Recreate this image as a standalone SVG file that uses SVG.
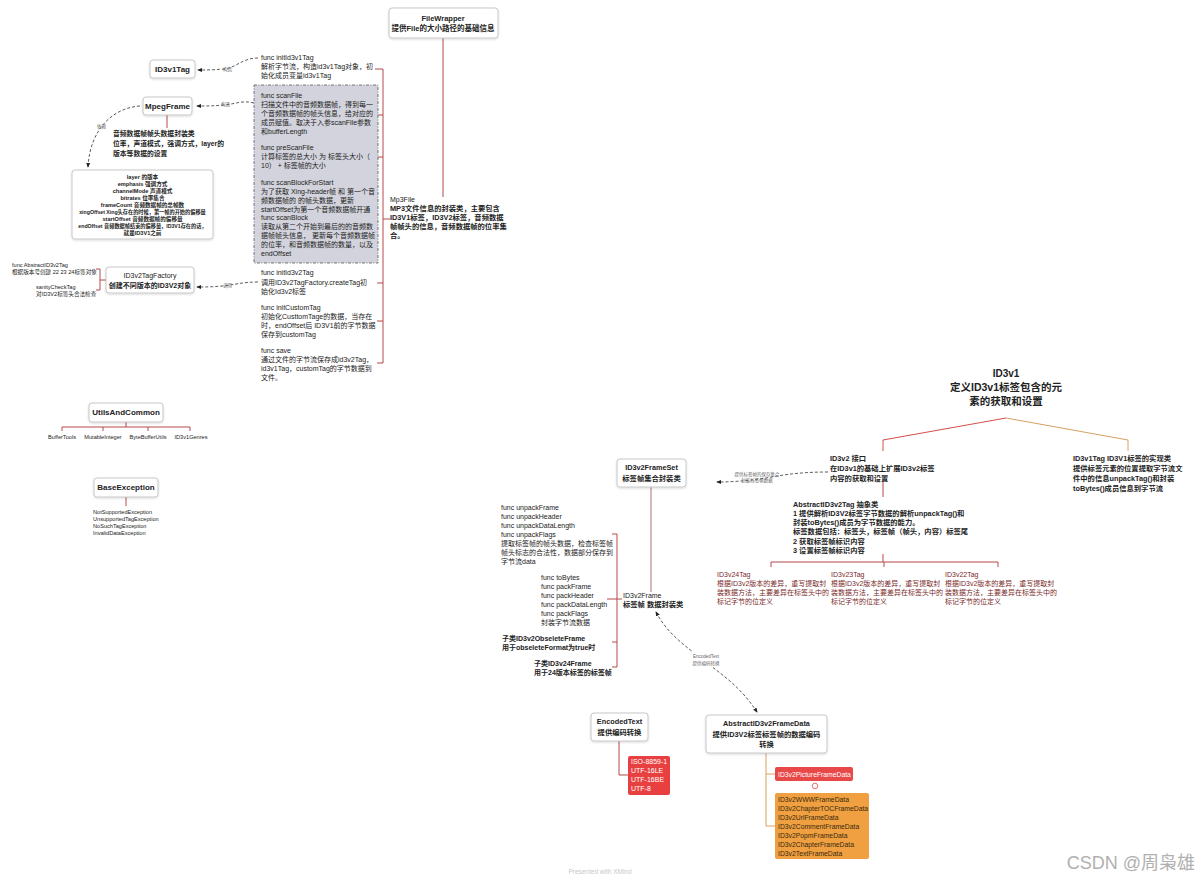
<svg xmlns="http://www.w3.org/2000/svg" width="1200" height="882" viewBox="0 0 1200 882">
<defs>
<style>
text{font-family:"Liberation Sans","Noto Sans CJK SC",sans-serif;fill:#222}
.n{fill:#fff;stroke:#c8c8c8;stroke-width:1}
.t{font-size:7px}
.tb{font-size:7.3px;font-weight:bold}
.s{font-size:5.6px}
.sb{font-size:5.6px;font-weight:bold}
.lbl{font-size:4.5px;fill:#666}
.h{font-size:8px;font-weight:bold;text-anchor:middle}
.c{text-anchor:middle}
.br{fill:none;stroke:#b5484a;stroke-width:1}
.dash{fill:none;stroke:#333;stroke-width:0.8;stroke-dasharray:3 2}
.dr{fill:#7a2a2a;font-size:7px}
.w{fill:#fff;font-size:7px}
.o{font-size:6.8px;fill:#3a2a10}
</style>
<marker id="ar" viewBox="0 0 6 6" refX="5" refY="3" markerWidth="6" markerHeight="6" orient="auto-start-reverse"><path d="M0,0.5 L6,3 L0,5.5 z" fill="#222"/></marker>
<filter id="sh" x="-10%" y="-20%" width="120%" height="150%"><feDropShadow dx="0" dy="1" stdDeviation="0.8" flood-color="#000" flood-opacity="0.15"/></filter>
</defs>
<rect width="1200" height="882" fill="#fff"/>

<g id="connectors">
<path class="br" d="M443,38 V197"/>
<path class="br" d="M383,69 V363 M375,69 H383 M377,115 H383 M377,157 H383 M383,219 H390 M377,283 H383 M377,321 H383 M377,363 H383"/>
<path class="dash" d="M258,58 C242,58 236,68 224,69 C212,70 206,70 198,70" marker-end="url(#ar)"/>
<path class="dash" d="M254,103 C242,100 236,104 224,105 C214,106 206,106 197,106" marker-end="url(#ar)"/>
<path class="dash" d="M140,106 C112,108 90,130 88,167" marker-end="url(#ar)"/>
<path class="dash" d="M258,282 C242,282 234,285 222,286 C212,287 205,287 197,287" marker-end="url(#ar)"/>
<path class="br" d="M167,115 V128"/>
<path class="br" d="M96,269 H100 V290 H96 M100,280 H106"/>
<path class="br" d="M126,422 V427 M62,431 V427 H190 V431 M103,427 V431 M148,427 V431"/>
<path class="br" d="M126,497 V506"/>
<path fill="none" stroke="#d0504a" stroke-width="1" d="M1006,418 L883,440 V451"/>
<path fill="none" stroke="#d8a060" stroke-width="1" d="M1006,418 L1128,440 V451"/>
<path class="br" d="M883,481 V497"/>
<path class="br" d="M883,554 V562 M771,567 V562 H998 V567 M884,562 V567"/>
<path class="dash" d="M828,472 C795,472 778,476 766,478 C745,481 732,482 717,482" marker-end="url(#ar)"/>
<path fill="none" stroke="#b07070" stroke-width="1" d="M651,487 V592"/>
<path class="br" d="M612,534 H617 V667 H612 M607,599 H622 M612,642 H617"/>
<path class="dash" d="M757,712 C740,686 722,675 706,662 C688,648 668,635 656,612" marker-start="url(#ar)" marker-end="url(#ar)"/>
<path class="br" d="M619,741 V775 H629"/>
<path fill="none" stroke="#d8a060" stroke-width="1" d="M766,753 V826 H775 M766,774 H775"/>
</g>

<g id="FileWrapper">
<rect class="n" x="389" y="8" width="109" height="30" rx="3" filter="url(#sh)"/>
<text class="h" x="443" y="21" style="font-size:7.5px">FileWrapper</text>
<text class="h" x="443" y="31" style="font-size:7.5px">提供File的大小路径的基础信息</text>
</g>

<g id="Mp3File">
<text class="t" x="390" y="202">Mp3File</text>
<text class="tb" x="390" y="211">MP3文件信息的封装类，主要包含</text>
<text class="tb" x="390" y="220">ID3V1标签，ID3V2标签，音频数据</text>
<text class="tb" x="390" y="229">帧帧头的信息，音频数据帧的位率集</text>
<text class="tb" x="390" y="238">合。</text>
</g>

<g id="initId3v1Tag">
<text class="t" x="261" y="60">func initId3v1Tag</text>
<text class="t" x="261" y="69">解析字节流，构造id3v1Tag对象，初</text>
<text class="t" x="261" y="78">始化成员变量id3v1Tag</text>
</g>

<g id="scanGroup">
<rect x="254" y="85" width="124" height="178" fill="#d2d3dc" stroke="#555" stroke-width="0.8" stroke-dasharray="3 1.5 1 1.5"/>
<text class="t" x="261" y="98">func scanFile</text>
<text class="t" x="261" y="107">扫描文件中的音频数据帧，得到每一</text>
<text class="t" x="261" y="116">个音频数据帧的帧头信息，给对应的</text>
<text class="t" x="261" y="125">成员赋值。取决于入参scanFile参数</text>
<text class="t" x="261" y="134">和bufferLength</text>
<text class="t" x="261" y="150">func preScanFile</text>
<text class="t" x="261" y="159">计算标签的总大小 为 标签头大小（</text>
<text class="t" x="261" y="168">10）  +  标签帧的大小</text>
<text class="t" x="261" y="185">func scanBlockForStart</text>
<text class="t" x="261" y="194">为了获取 Xing-header帧 和 第一个音</text>
<text class="t" x="261" y="203">频数据帧的 的帧头数据，更新</text>
<text class="t" x="261" y="212">startOffset为第一个音频数据帧开通</text>
<text class="t" x="261" y="220">func scanBlock</text>
<text class="t" x="261" y="229">读取从第二个开始到最后的的音频数</text>
<text class="t" x="261" y="238">据帧帧头信息， 更新每个音频数据帧</text>
<text class="t" x="261" y="247">的位率，和音频数据帧的数量，以及</text>
<text class="t" x="261" y="256">endOffset</text>
</g>

<g id="initId3v2Tag">
<text class="t" x="261" y="275">func initId3v2Tag</text>
<text class="t" x="261" y="285">调用ID3v2TagFactory.createTag初</text>
<text class="t" x="261" y="294">始化Id3v2标签</text>
</g>
<g id="initCustomTag">
<text class="t" x="261" y="310">func initCustomTag</text>
<text class="t" x="261" y="319">初始化CusttomTage的数据，当存在</text>
<text class="t" x="261" y="328">时，endOffset后 ID3V1前的字节数据</text>
<text class="t" x="261" y="337">保存到customTag</text>
</g>
<g id="save">
<text class="t" x="261" y="353">func save</text>
<text class="t" x="261" y="362">通过文件的字节流保存成id3v2Tag，</text>
<text class="t" x="261" y="371">id3v1Tag，customTag的字节数据到</text>
<text class="t" x="261" y="380">文件。</text>
</g>

<g id="labels">
<text class="lbl" x="223" y="71">构造</text>
<text class="lbl" x="221" y="106">构造</text>
<text class="lbl" x="97" y="128">依赖</text>
<text class="lbl" x="223" y="287">调用</text>
<text class="lbl c" x="757" y="476">提供标签帧的保存集合</text>
<text class="lbl c" x="757" y="482">封装标签帧数据</text>
<rect x="688" y="652" width="36" height="15" fill="#fff"/>
<text class="lbl c" x="706" y="658">EncodedText</text>
<text class="lbl c" x="706" y="665">提供编码转换</text>
</g>

<g id="ID3v1Tag">
<rect class="n" x="150" y="60" width="45" height="18" rx="3" filter="url(#sh)"/>
<text class="h" x="172.5" y="72">ID3v1Tag</text>
</g>

<g id="MpegFrame">
<rect class="n" x="143" y="97" width="49" height="18" rx="3" filter="url(#sh)"/>
<text class="h" x="167.5" y="109">MpegFrame</text>
</g>
<g id="MpegFrameDesc">
<text class="tb" x="113" y="136" style="font-size:6.8px">音频数据帧帧头数据封装类</text>
<text class="tb" x="113" y="146" style="font-size:6.8px">位率，声道模式，强调方式，layer的</text>
<text class="tb" x="113" y="156" style="font-size:6.8px">版本等数据的设置</text>
</g>

<g id="MpegFields">
<rect class="n" x="72" y="170" width="141" height="69" rx="3" filter="url(#sh)"/>
<text class="sb c" x="142.5" y="179">layer 的版本</text>
<text class="sb c" x="142.5" y="186">emphasis 强调方式</text>
<text class="sb c" x="142.5" y="193">channelMode 声道模式</text>
<text class="sb c" x="142.5" y="200">bitrates 位率集合</text>
<text class="sb c" x="142.5" y="207">frameCount 音频数据帧的总帧数</text>
<text class="sb c" x="142.5" y="214" style="font-size:5.2px">xingOffset Xing头存在的时候，第一帧的开始的偏移量</text>
<text class="sb c" x="142.5" y="221">startOffset 音频数据帧的偏移量</text>
<text class="sb c" x="142.5" y="228" style="font-size:5.2px">endOffset 音频数据帧结束的偏移量，ID3V1存在的话，</text>
<text class="sb c" x="142.5" y="235">就是ID3V1之前</text>
</g>

<g id="ID3v2TagFactory">
<rect class="n" x="106" y="267" width="88" height="26" rx="3" filter="url(#sh)"/>
<text class="c" x="150" y="278" style="font-size:7px">ID3v2TagFactory</text>
<text class="c" x="150" y="288" style="font-size:7px;font-weight:bold">创建不同版本的ID3V2对象</text>
</g>
<g id="FactoryChildren">
<text class="s" x="12" y="267">func AbstractID3v2Tag</text>
<text class="s" x="12" y="274">根据版本号创建 22 23 24标签对象</text>
<text class="s" x="36" y="289">sanityCheckTag</text>
<text class="s" x="36" y="296">对ID3V2标签头合法检查</text>
</g>

<g id="UtilsAndCommon">
<rect class="n" x="89" y="403" width="74" height="19" rx="3" filter="url(#sh)"/>
<text class="h" x="126" y="415">UtilsAndCommon</text>
<text class="s c" x="62" y="439">BufferTools</text>
<text class="s c" x="103" y="439">MutableInteger</text>
<text class="s c" x="148" y="439">ByteBufferUtils</text>
<text class="s c" x="191" y="439">ID3v1Genres</text>
</g>

<g id="BaseException">
<rect class="n" x="94" y="478" width="64" height="19" rx="3" filter="url(#sh)"/>
<text class="h" x="126" y="490">BaseException</text>
<text class="s" x="93" y="514">NotSupportedException</text>
<text class="s" x="93" y="521">UnsupportedTagException</text>
<text class="s" x="93" y="528">NoSuchTagException</text>
<text class="s" x="93" y="535">InvalidDataException</text>
</g>

<g id="ID3v1">
<text class="c" x="1006" y="377" style="font-size:10px;font-weight:bold">ID3v1</text>
<text class="c" x="1006" y="391" style="font-size:10.5px;font-weight:bold">定义ID3v1标签包含的元</text>
<text class="c" x="1006" y="405" style="font-size:10.5px;font-weight:bold">素的获取和设置</text>
</g>

<g id="ID3v2">
<text class="tb" x="830" y="461">ID3v2  接口</text>
<text class="tb" x="830" y="471">在ID3v1的基础上扩展ID3v2标签</text>
<text class="tb" x="830" y="481">内容的获取和设置</text>
</g>

<g id="ID3v1TagImpl">
<text class="tb" x="1073" y="461">ID3v1Tag   ID3V1标签的实现类</text>
<text class="tb" x="1073" y="471">提供标签元素的位置提取字节流文</text>
<text class="tb" x="1073" y="481">件中的信息unpackTag()和封装</text>
<text class="tb" x="1073" y="491">toBytes()成员信息到字节流</text>
</g>

<g id="AbstractID3v2Tag">
<text class="tb" x="793" y="507">AbstractID3v2Tag  抽象类</text>
<text class="tb" x="793" y="516">1 提供解析ID3V2标签字节数据的解析unpackTag()和</text>
<text class="tb" x="793" y="525">封装toBytes()成员为字节数据的能力。</text>
<text class="tb" x="793" y="534">标签数据包括：标签头，标签帧（帧头，内容）标签尾</text>
<text class="tb" x="793" y="544">2 获取标签帧标识内容</text>
<text class="tb" x="793" y="553">3 设置标签帧标识内容</text>
</g>

<g id="ID3v24Tag">
<text class="dr" x="717" y="577">ID3v24Tag</text>
<text class="dr" x="717" y="586">根据ID3v2版本的差异，重写提取封</text>
<text class="dr" x="717" y="595">装数据方法，主要差异在标签头中的</text>
<text class="dr" x="717" y="604">标记字节的位定义</text>
</g>
<g id="ID3v23Tag">
<text class="dr" x="831" y="577">ID3v23Tag</text>
<text class="dr" x="831" y="586">根据ID3v2版本的差异，重写提取封</text>
<text class="dr" x="831" y="595">装数据方法，主要差异在标签头中的</text>
<text class="dr" x="831" y="604">标记字节的位定义</text>
</g>
<g id="ID3v22Tag">
<text class="dr" x="945" y="577">ID3v22Tag</text>
<text class="dr" x="945" y="586">根据ID3v2版本的差异，重写提取封</text>
<text class="dr" x="945" y="595">装数据方法，主要差异在标签头中的</text>
<text class="dr" x="945" y="604">标记字节的位定义</text>
</g>

<g id="ID3v2FrameSet">
<rect class="n" x="617" y="459" width="69" height="28" rx="3" filter="url(#sh)"/>
<text class="h" x="651.5" y="470" style="font-size:7.3px">ID3v2FrameSet</text>
<text class="h" x="651.5" y="481" style="font-size:7.3px">标签帧集合封装类</text>
</g>

<g id="ID3v2Frame">
<text class="t" x="623" y="598">ID3v2Frame</text>
<text class="tb" x="623" y="607">标签帧 数据封装类</text>
</g>

<g id="unpackGroup">
<text class="t" x="501" y="510">func unpackFrame</text>
<text class="t" x="501" y="519">func unpackHeader</text>
<text class="t" x="501" y="528">func unpackDataLength</text>
<text class="t" x="501" y="537">func unpackFlags</text>
<text class="t" x="501" y="546">提取标签帧的帧头数据，检查标签帧</text>
<text class="t" x="501" y="555">帧头标志的合法性，数据部分保存到</text>
<text class="t" x="501" y="564">字节流data</text>
</g>
<g id="packGroup">
<text class="t" x="541" y="580">func toBytes</text>
<text class="t" x="541" y="589">func packFrame</text>
<text class="t" x="541" y="598">func packHeader</text>
<text class="t" x="541" y="607">func packDataLength</text>
<text class="t" x="541" y="616">func packFlags</text>
<text class="t" x="541" y="625">封装字节流数据</text>
</g>
<g id="ObseleteFrame">
<text class="tb" x="502" y="641" style="font-size:7px">子类ID3v2ObseleteFrame</text>
<text class="tb" x="502" y="650" style="font-size:7px">用于obseleteFormat为true时</text>
</g>
<g id="ID3v24Frame">
<text class="tb" x="534" y="666" style="font-size:7px">子类ID3v24Frame</text>
<text class="tb" x="534" y="675" style="font-size:7px">用于24版本标签的标签帧</text>
</g>

<g id="EncodedText">
<rect class="n" x="591" y="713" width="57" height="28" rx="3" filter="url(#sh)"/>
<text class="h" x="619.5" y="724" style="font-size:7.3px">EncodedText</text>
<text class="h" x="619.5" y="735" style="font-size:7.3px">提供编码转换</text>
</g>
<g id="Encodings">
<rect x="628" y="756" width="42" height="39" rx="2" fill="#e84040"/>
<text class="w" x="631" y="764">ISO-8859-1</text>
<text class="w" x="631" y="773">UTF-16LE</text>
<text class="w" x="631" y="782">UTF-16BE</text>
<text class="w" x="631" y="791">UTF-8</text>
</g>

<g id="AbstractID3v2FrameData">
<rect class="n" x="706" y="715" width="121" height="38" rx="3" filter="url(#sh)"/>
<text class="h" x="766.5" y="726" style="font-size:7.3px">AbstractID3v2FrameData</text>
<text class="h" x="766.5" y="737" style="font-size:7.3px">提供ID3V2标签标签帧的数据编码</text>
<text class="h" x="766.5" y="747" style="font-size:7.3px">转换</text>
</g>
<g id="ID3v2PictureFrameData">
<rect x="775" y="767" width="78" height="14" rx="2" fill="#e84848"/>
<text class="w" x="778" y="777" style="font-size:6.8px">ID3v2PictureFrameData</text>
<circle cx="815" cy="786" r="2.8" fill="#fff" stroke="#e84848" stroke-width="0.8"/>
</g>
<g id="FrameDataList">
<rect x="775" y="793" width="94" height="66" rx="2" fill="#f0a040"/>
<text class="o" x="778" y="802">ID3v2WWWFrameData</text>
<text class="o" x="778" y="811">ID3v2ChapterTOCFrameData</text>
<text class="o" x="778" y="820">ID3v2UrlFrameData</text>
<text class="o" x="778" y="829">ID3v2CommentFrameData</text>
<text class="o" x="778" y="838">ID3v2PopmFrameData</text>
<text class="o" x="778" y="847">ID3v2ChapterFrameData</text>
<text class="o" x="778" y="856">ID3v2TextFrameData</text>
</g>

<text x="600" y="874" text-anchor="middle" style="font-size:6.5px;fill:#c8c8c8">Presented with XMind</text>
<text x="1195" y="869" text-anchor="end" style="font-size:18px;fill:#b0b0b0">CSDN @周枭雄</text>
</svg>
